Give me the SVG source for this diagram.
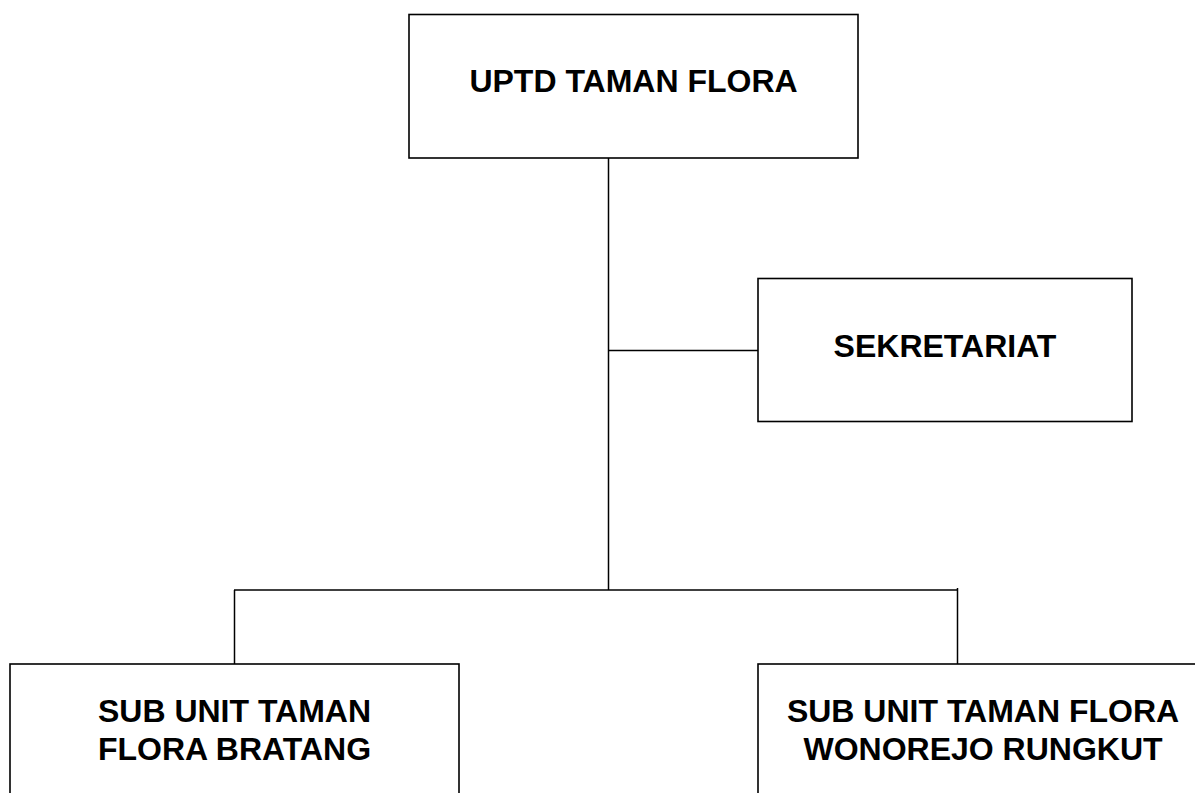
<svg xmlns="http://www.w3.org/2000/svg" width="1195" height="793" viewBox="0 0 1195 793">
<style>
.box{fill:#fff;stroke:#000;stroke-width:1.6}
.ln{fill:none;stroke:#000;stroke-width:1.5}
.t{font-family:"Liberation Sans",Arial,sans-serif;font-weight:bold;font-size:32px;fill:#000;text-anchor:middle}
</style>
<rect width="1195" height="793" fill="#fff"/>
<g id="connectors">
<line class="ln" x1="608.5" y1="158" x2="608.5" y2="590"/>
<line class="ln" x1="608.5" y1="350.5" x2="758" y2="350.5"/>
<line class="ln" x1="234" y1="590" x2="958" y2="590"/>
<line class="ln" x1="234.5" y1="590" x2="234.5" y2="664"/>
<line class="ln" x1="957.5" y1="588" x2="957.5" y2="664"/>
</g>
<g id="uptd">
<rect class="box" x="409" y="14.5" width="449" height="143.5"/>
<text class="t" x="633.5" y="92">UPTD TAMAN FLORA</text>
</g>
<g id="sekretariat">
<rect class="box" x="758" y="278.5" width="374" height="143"/>
<text class="t" x="945" y="357">SEKRETARIAT</text>
</g>
<g id="bratang">
<rect class="box" x="10" y="664" width="449" height="160"/>
<text class="t" x="234.5" y="722">SUB UNIT TAMAN</text>
<text class="t" x="234.5" y="760">FLORA BRATANG</text>
</g>
<g id="wonorejo">
<rect class="box" x="758" y="664" width="449" height="160"/>
<text class="t" x="983" y="722">SUB UNIT TAMAN FLORA</text>
<text class="t" x="983" y="760">WONOREJO RUNGKUT</text>
</g>
</svg>
